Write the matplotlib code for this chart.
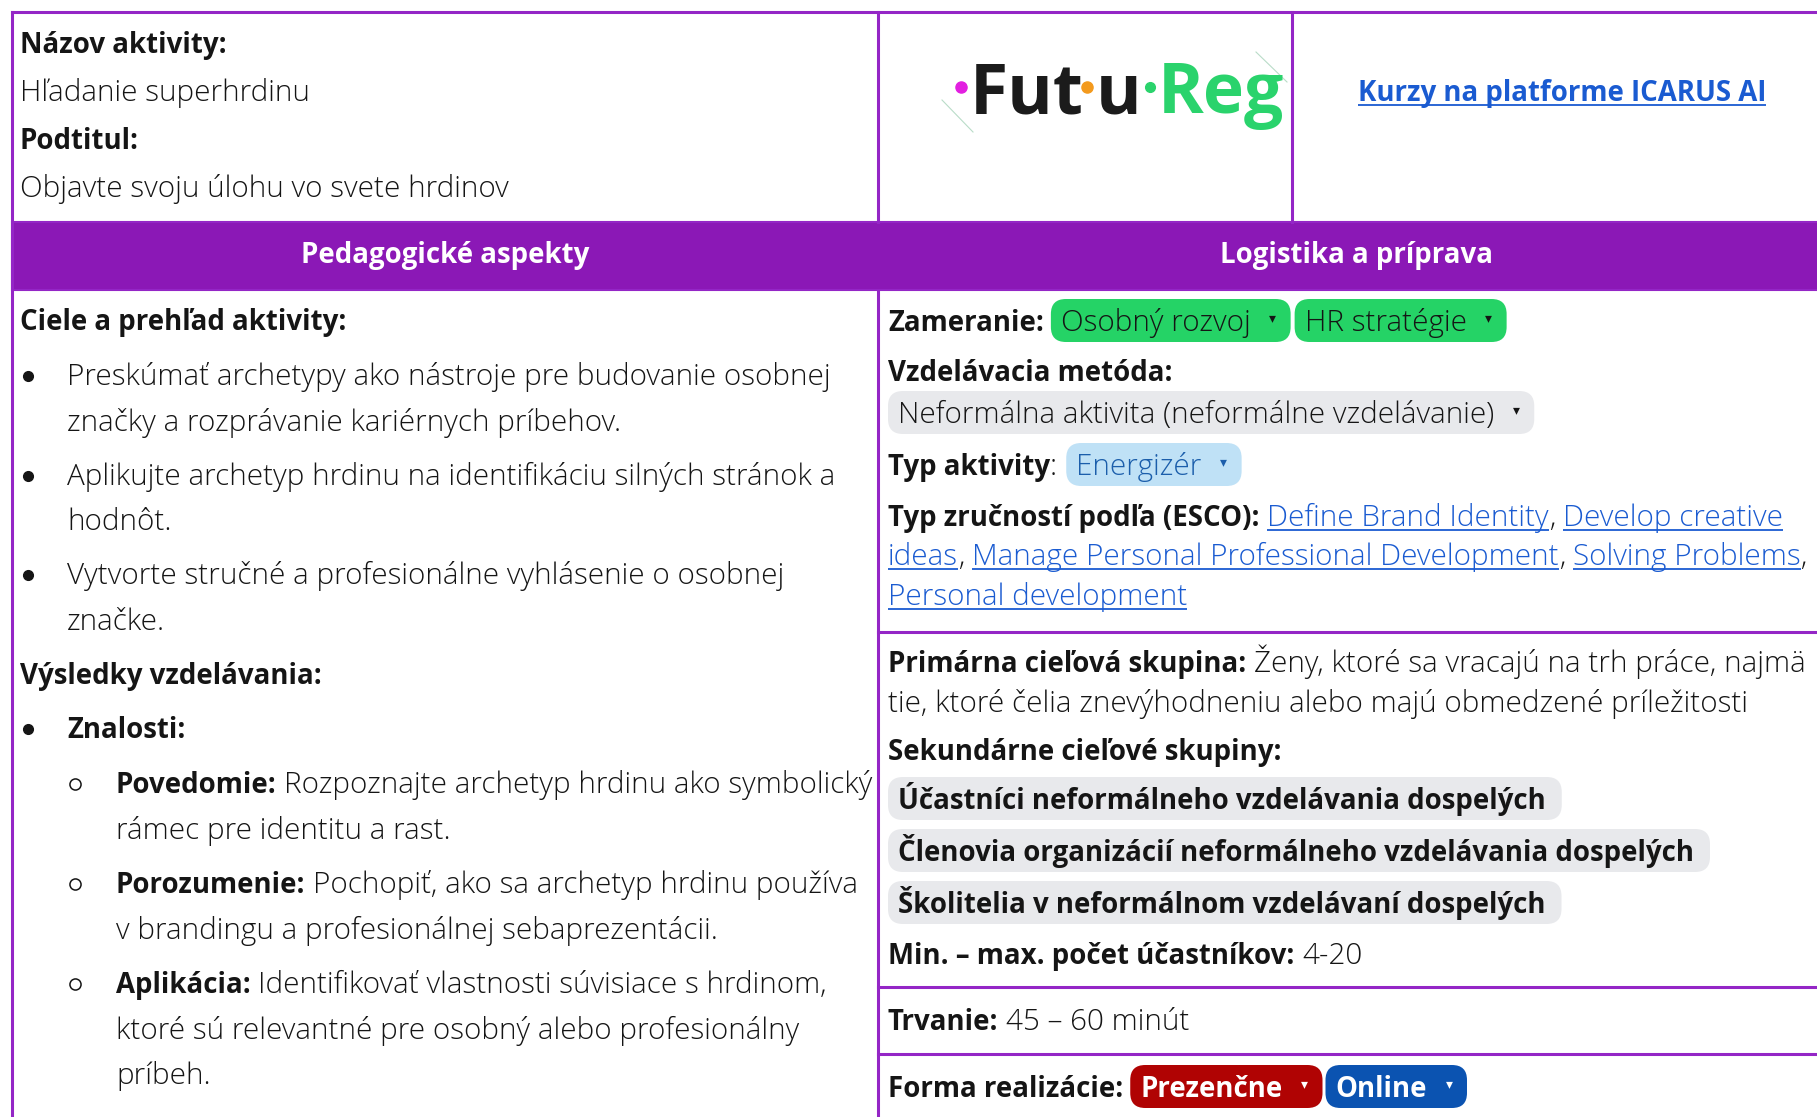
import matplotlib
matplotlib.use("Agg")
import matplotlib.pyplot as plt
from matplotlib.patches import FancyBboxPatch, Rectangle

W, H = 1817, 1117
FONT = ["Open Sans", "DejaVu Sans"]
PURPLE = "#8b18b6"
LINE = "#9426c6"
INK = "#151515"
LINK = "#1a5bd1"

# ---- texts of the card ----
title_label = "Názov aktivity:"
title = "Hľadanie superhrdinu"
subtitle_label = "Podtitul:"
subtitle = "Objavte svoju úlohu vo svete hrdinov"
headers = ["Pedagogické aspekty", "Logistika a príprava"]
link_text = "Kurzy na platforme ICARUS AI"
logo_parts = ["Fut", "u", "Reg"]

goals_label = "Ciele a prehľad aktivity:"
goals = [
    ["Preskúmať archetypy ako nástroje pre budovanie osobnej", "značky a rozprávanie kariérnych príbehov."],
    ["Aplikujte archetyp hrdinu na identifikáciu silných stránok a", "hodnôt."],
    ["Vytvorte stručné a profesionálne vyhlásenie o osobnej", "značke."],
]
outcomes_label = "Výsledky vzdelávania:"
knowledge_label = "Znalosti:"
knowledge = [
    ("Povedomie:", ["Rozpoznajte archetyp hrdinu ako symbolický", "rámec pre identitu a rast."]),
    ("Porozumenie:", ["Pochopiť, ako sa archetyp hrdinu používa", "v brandingu a profesionálnej sebaprezentácii."]),
    ("Aplikácia:", ["Identifikovať vlastnosti súvisiace s hrdinom,",
                    "ktoré sú relevantné pre osobný alebo profesionálny", "príbeh."]),
]

focus_label = "Zameranie:"
focus = ["Osobný rozvoj", "HR stratégie"]
method_label = "Vzdelávacia metóda:"
method = "Neformálna aktivita (neformálne vzdelávanie)"
type_label = "Typ aktivity"
activity_type = "Energizér"
esco_label = "Typ zručností podľa (ESCO):"
# (text, is_link) per wrapped line
esco_lines = [
    [("Define Brand Identity", True), (", ", False), ("Develop creative", True)],
    [("ideas", True), (", ", False), ("Manage Personal Professional Development", True), (", ", False),
     ("Solving Problems", True), (",", False)],
    [("Personal development", True)],
]
primary_label = "Primárna cieľová skupina:"
primary = ["Ženy, ktoré sa vracajú na trh práce, najmä", "tie, ktoré čelia znevýhodneniu alebo majú obmedzené príležitosti"]
secondary_label = "Sekundárne cieľové skupiny:"
secondary = ["Účastníci neformálneho vzdelávania dospelých",
             "Členovia organizácií neformálneho vzdelávania dospelých",
             "Školitelia v neformálnom vzdelávaní dospelých"]
size_label = "Min. – max. počet účastníkov:"
size_value = "4-20"
duration_label = "Trvanie:"
duration = "45 – 60 minút"
delivery_label = "Forma realizácie:"
delivery = ["Prezenčne", "Online"]
delivery_colors = ["#b00303", "#0b53b1"]

fig = plt.figure(figsize=(W / 100, H / 100), dpi=100)
ax = fig.add_axes([0, 0, 1, 1])
ax.set_xlim(0, W)
ax.set_ylim(H, 0)
ax.axis("off")
r = fig.canvas.get_renderer()


def text_w(s, size, weight):
    t = ax.text(0, 0, s, fontsize=size, fontweight=weight, family=FONT)
    w = t.get_window_extent(renderer=r).width
    t.remove()
    return w


# font sizes fitted so the line widths match the page
REG = 10 * 488 / text_w(subtitle, 10, "light")
BOLD = 10 * 327 / text_w(goals_label, 10, "bold")
SP = text_w("a a", REG, "light") - text_w("aa", REG, "light")


def run(x, y, parts, size=None):
    # parts: (text, weight, color, underline)
    for s, weight, color, link in parts:
        fs = size or (BOLD if weight == "bold" else REG)
        core = s.rstrip(" ")
        t = ax.text(x, y, core, fontsize=fs, fontweight=weight, color=color, family=FONT, va="baseline")
        w = t.get_window_extent(renderer=r).width
        if link:
            ax.plot([x, x + w], [y + 4, y + 4], color=color, lw=1.3, solid_capstyle="butt")
        x += w + SP * (len(s) - len(core))
    return x


def pill(x0, y, s, face, color, weight="light", caret=True):
    fs = BOLD if weight == "bold" else REG
    tw = text_w(s, fs, weight)
    right = x0 + 10 + tw + (40 if caret else 16)
    ax.add_patch(FancyBboxPatch((x0, y - 32), right - x0, 43, boxstyle="round,pad=0,rounding_size=15",
                                fc=face, ec="none", zorder=1))
    ax.text(x0 + 10, y, s, fontsize=fs, fontweight=weight, color=color, family=FONT, va="baseline", zorder=2)
    if caret:
        ax.text(right - 18, y - 13, "▾", fontsize=10, color=color, family="DejaVu Sans",
                ha="center", va="center", zorder=2)
    return right


def bullet(x, y, filled=True):
    if filled:
        ax.plot([x], [y], "o", color=INK, ms=7)
    else:
        ax.plot([x], [y], "o", mfc="none", mec=INK, mew=1.1, ms=8)


# ---- grid ----
ax.add_patch(Rectangle((12, 222), W, 68, fc=PURPLE, ec=LINE, lw=1.5))
ax.plot([12, W], [12, 12], color=LINE, lw=2.2)
ax.plot([12, 12], [12, H], color=LINE, lw=2.2)
ax.plot([878, 878], [12, 222], color=LINE, lw=2.2)
ax.plot([878, 878], [290, H], color=LINE, lw=2.2)
ax.plot([1292, 1292], [12, 222], color=LINE, lw=2.2)
for yy in [632, 987, 1054]:
    ax.plot([878, W], [yy, yy], color=LINE, lw=2.2)

ax.text(445, 256, headers[0], fontsize=BOLD, fontweight="bold", color="white", family=FONT, ha="center", va="center")
ax.text(1356, 256, headers[1], fontsize=BOLD, fontweight="bold", color="white", family=FONT, ha="center", va="center")

# ---- top cells ----
run(20, 53, [(title_label, "bold", INK, False)])
run(20, 101, [(title, "light", INK, False)])
run(20, 149, [(subtitle_label, "bold", INK, False)])
run(20, 197, [(subtitle, "light", INK, False)])

# logo
LOGO = 10 * 160 / text_w("Futu", 10, "bold")
x = 970
ax.plot([961], [87], "o", color="#e21fe0", ms=8)
x = run(x, 113, [(logo_parts[0], "bold", "#1b1b1b", False)], size=LOGO)
ax.plot([x + 3], [87], "o", color="#f39a1d", ms=8)
x = run(x + 12, 113, [(logo_parts[1], "bold", "#1b1b1b", False)], size=LOGO)
ax.plot([x + 8], [87], "o", color="#2ad36c", ms=7)
run(x + 16, 113, [(logo_parts[2], "bold", "#2ad36c", False)], size=LOGO)
ax.plot([942, 973], [100, 132], color="#b9dcc8", lw=0.8)
ax.plot([1256, 1287], [52, 82], color="#b9dcc8", lw=0.8)

lw_link = text_w(link_text, BOLD, "bold")
run(1562 - lw_link / 2, 101, [(link_text, "bold", LINK, True)])

# ---- left column ----
run(20, 330, [(goals_label, "bold", INK, False)])
y = 385
for item in goals:
    bullet(28, y - 9)
    for line in item:
        run(67, y, [(line, "light", INK, False)])
        y += 45.5
    y += 8.5
run(20, 684, [(outcomes_label, "bold", INK, False)])
bullet(28, 738 - 9)
run(67, 738, [(knowledge_label, "bold", INK, False)])
y = 793
for label, lines in knowledge:
    bullet(75, y - 9, filled=False)
    run(116, y, [(label + " ", "bold", INK, False), (lines[0], "light", INK, False)])
    for line in lines[1:]:
        y += 45.5
        run(116, y, [(line, "light", INK, False)])
    y += 54.5

# ---- right column ----
x = run(888, 331, [(focus_label, "bold", INK, False)])
x = pill(x + 7, 331, focus[0], "#25d366", INK)
pill(x + 4, 331, focus[1], "#25d366", INK)

run(888, 381, [(method_label, "bold", INK, False)])
pill(888, 423, method, "#e8e9ec", INK)

x = run(888, 475, [(type_label, "bold", INK, False), (":", "light", INK, False)])
pill(x + 9, 475, activity_type, "#bfe1f6", "#1b5eab")

x = run(888, 526, [(esco_label + " ", "bold", INK, False)])
ys = [526, 565, 605]
for i, line in enumerate(esco_lines):
    x = x if i == 0 else 888
    x = run(x, ys[i], [(s, "light", LINK if lk else INK, lk) for s, lk in line])

run(888, 672, [(primary_label + " ", "bold", INK, False), (primary[0], "light", INK, False)])
run(888, 712, [(primary[1], "light", INK, False)])
run(888, 760, [(secondary_label, "bold", INK, False)])
for i, s in enumerate(secondary):
    pill(888, 809 + 52 * i, s, "#e8e9ec", INK, weight="bold", caret=False)
run(888, 964, [(size_label + " ", "bold", INK, False), (size_value, "light", INK, False)])
run(888, 1030, [(duration_label + " ", "bold", INK, False), (duration, "light", INK, False)])
x = run(888, 1097, [(delivery_label, "bold", INK, False)])
x = pill(x + 7, 1097, delivery[0], delivery_colors[0], "white", weight="bold")
pill(x + 3, 1097, delivery[1], delivery_colors[1], "white", weight="bold")

fig.savefig("out.png", dpi=100)
